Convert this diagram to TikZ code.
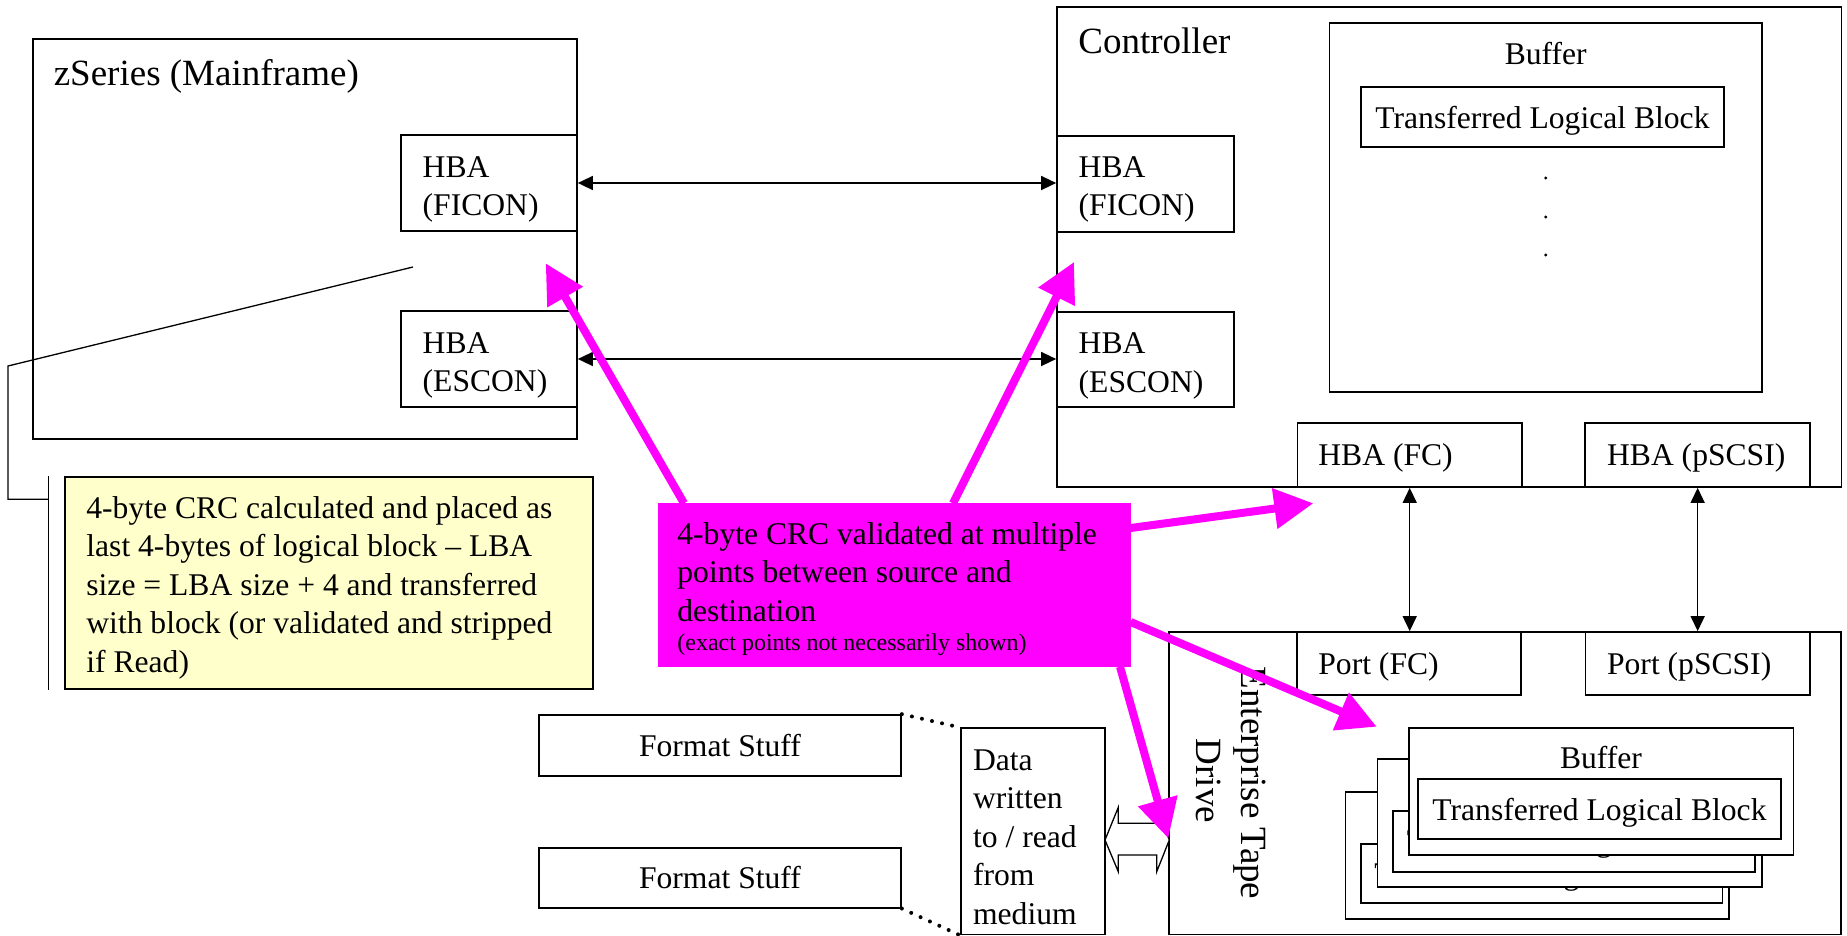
\documentclass[tikz,border=0pt]{standalone}
\usepackage{fontspec}
\setmainfont{Liberation Serif}
\usetikzlibrary{arrows.meta,fit}
\definecolor{hot}{HTML}{FF00FF}
\definecolor{notefill}{HTML}{FFFFCC}
\newcommand\fmain{\fontsize{15.8}{19.2}\selectfont}
\newcommand\fbig{\fontsize{18.5}{22.2}\selectfont}
\newcommand\fsmall{\fontsize{12}{14}\selectfont}

\begin{document}
\begin{tikzpicture}[x=0.5pt,y=-0.5pt,
  box/.style={draw, line width=0.85pt, fill=white, inner sep=0pt},
  txt/.style={inner sep=0pt, font=\fmain},
  lines/.style={inner sep=0pt, font=\fmain, align=left, anchor=north west,
    execute at begin node=\strut},
  biarrow/.style={line width=0.7pt, {Triangle[length=7.5pt,width=7pt]}-{Triangle[length=7.5pt,width=7pt]}},
  hotarrow/.style={draw=hot, line width=4pt, -{Triangle[length=19.5pt,width=19.5pt]}},
  dots/.style={line width=2pt, line cap=round, dash pattern=on 0pt off 5.15pt},
  thinline/.style={line width=0.65pt}]
\useasboundingbox (0,0) rectangle (1847,936);

% ---------- mainframe ----------
\node[box, fit={(33,39) (577,439)}] (zs) {};
\node[txt, font=\fbig, anchor=base west] (zstitle) at (53.4,86) {zSeries (Mainframe)};
\node[box, fit={(401,135) (577,231)}] (zhf) {};
\node[lines] (zhftext) at (422.3,156.1) {HBA\\(FICON)};
\node[box, fit={(401,311) (577,407)}] (zhe) {};
\node[lines] (zhetext) at (422.3,332.1) {HBA\\(ESCON)};

% ---------- controller ----------
\node[box, fit={(1057,7.3) (1841.6,487)}] (ctl) {};
\node[txt, font=\fbig, anchor=base west] (ctltitle) at (1078,53.3) {Controller};
\node[box, fit={(1057,135.7) (1234,231.7)}] (chf) {};
\node[lines] (chftext) at (1078.3,156.1) {HBA\\(FICON)};
\node[box, fit={(1057,311.7) (1234,407.3)}] (che) {};
\node[lines] (chetext) at (1078.3,332.4) {HBA\\(ESCON)};
\node[box, fit={(1329.6,23.3) (1761.7,391.7)}] (cbuf) {};
\node[txt, anchor=base] (cbuftitle) at (1545.7,64.3) {Buffer};
\node[box, fit={(1361,87.3) (1724,146.7)}] (ctlb) {};
\node[txt, anchor=base] (ctlbtext) at (1542.5,128.3) {Transferred Logical Block};
\fill (1545.7,178) circle[radius=0.8pt] (1545.7,217) circle[radius=0.8pt]
      (1545.7,255) circle[radius=0.8pt];
\node[box, fit={(1297.6,423.3) (1521.8,487)}] (hfc) {};
\node[txt, anchor=base west] (hfctext) at (1318,465) {HBA (FC)};
\node[box, fit={(1585.3,423.3) (1810,487)}] (hps) {};
\node[txt, anchor=base west] (hpstext) at (1606.7,465) {HBA (pSCSI)};

% ---------- tape drive ----------
\node[box, fit={(1169,632) (1841,934.5)}] (drv) {};
\node[txt, font=\fbig, rotate=-90, anchor=base] (drvname1) at (1241,783) {Enterprise Tape};
\node[txt, font=\fbig, rotate=-90, anchor=base] (drvname2) at (1196.7,781) {Drive};
\node[box, fit={(1297,632) (1521,695)}] (pfc) {};
\node[txt, anchor=base west] (pfctext) at (1318,674) {Port (FC)};
\node[box, fit={(1585.5,632) (1810,695)}] (pps) {};
\node[txt, anchor=base west] (ppstext) at (1606.7,674) {Port (pSCSI)};

% stacked buffers, back to front
\node[box, fit={(1345.6,791.7) (1729,919.3)}] (bufA) {};
\node[txt, anchor=base] (bufAtitle) at (1537.6,832.3) {Buffer};
\node[box, fit={(1360.7,844) (1722.4,903.3)}] (tlbA) {};
\node[txt, anchor=base] (tlbAtext) at (1541.5,884.7) {Transferred Logical Block};
\node[box, fit={(1377.6,759.3) (1762,887.3)}] (bufB) {};
\node[txt, anchor=base] (bufBtitle) at (1569.6,799.9) {Buffer};
\node[box, fit={(1392.7,811) (1755,871.7)}] (tlbB) {};
\node[txt, anchor=base] (tlbBtext) at (1573.8,851.7) {Transferred Logical Block};
\node[box, fit={(1409,727.7) (1793.6,855)}] (bufC) {};
\node[txt, anchor=base] (bufCtitle) at (1601,768.3) {Buffer};
\node[box, fit={(1418,779.3) (1781,839.3)}] (tlbC) {};
\node[txt, anchor=base] (tlbCtext) at (1599.5,820) {Transferred Logical Block};

% ---------- medium ----------
\node[box, fit={(539,715) (901,775.7)}] (fs1) {};
\node[txt, anchor=base] (fs1text) at (720,756.7) {Format Stuff};
\node[box, fit={(539,847.7) (901,907.7)}] (fs2) {};
\node[txt, anchor=base] (fs2text) at (720,888.3) {Format Stuff};
\node[box, fit={(961,728.3) (1105,934.5)}] (data) {};
\node[lines] (datatext) at (972.7,749.4) {Data\\written\\to / read\\from\\medium};
\draw[dots] (fs1.north east) -- (data.north west);
\draw[dots] (fs2.south east) -- (data.south west);
\draw[thinline, fill=white] (1105,840) -- (1118.3,807.3) -- (1118.3,823.3)
  -- (1156.7,823.3) -- (1156.7,807.3) -- (1169.3,840) -- (1156.7,871.7)
  -- (1156.7,855) -- (1118.3,855) -- (1118.3,871.7) -- cycle;

% ---------- links ----------
\draw[biarrow] (zhf.east) -- (zhf.east -| chf.west);
\draw[biarrow] (zhe.east) -- (zhe.east -| che.west);
\draw[biarrow] (hfc.south) -- (hfc.south |- pfc.north);
\draw[biarrow] (hps.south) -- (hps.south |- pps.north);

% ---------- note with callout ----------
\node[box, fill=notefill, fit={(65,477) (593,689)}] (note) {};
\node[lines] (notetext) at (86,496.1) {4-byte CRC calculated and placed as\\
  last 4-bytes of logical block -- LBA\\size = LBA size + 4 and transferred\\
  with block (or validated and stripped\\if Read)};
\coordinate (ctip) at (413,267);
\draw[thinline] ([xshift=-7.8pt]note.north west) -- ([xshift=-7.8pt]note.south west);
\draw[thinline] (ctip) -- (8,366) |- ([xshift=-7.8pt,yshift=-11.5pt]note.north west);

% ---------- validation points ----------
\node[fill=hot, inner sep=0pt, fit={(657.5,503.3) (1130.7,666.7)}] (crc) {};
\node[lines] (crctext) at (677,522.2) {4-byte CRC validated at multiple\\
  points between source and\\destination};
\node[txt, font=\fsmall, anchor=base west] (crcnote) at (677,650) {(exact points not necessarily shown)};
\coordinate (sL) at (684,503.3);   \coordinate (tL) at (545.7,263.3);
\coordinate (sR) at (953,503.3);   \coordinate (tR) at (1074,262);
\coordinate (sF) at (1130.7,528); \coordinate (tF) at (1313.3,503.3);
\coordinate (sB) at (1130.7,622); \coordinate (tB) at (1376.7,726.7);
\coordinate (sD) at (1120,666.7);  \coordinate (tD) at (1168.3,838.3);
\draw[hotarrow] (sL) -- (tL);
\draw[hotarrow] (sR) -- (tR);
\draw[hotarrow] (sF) -- (tF);
\draw[hotarrow] (sB) -- (tB);
\draw[hotarrow] (sD) -- (tD);
\end{tikzpicture}
\end{document}
